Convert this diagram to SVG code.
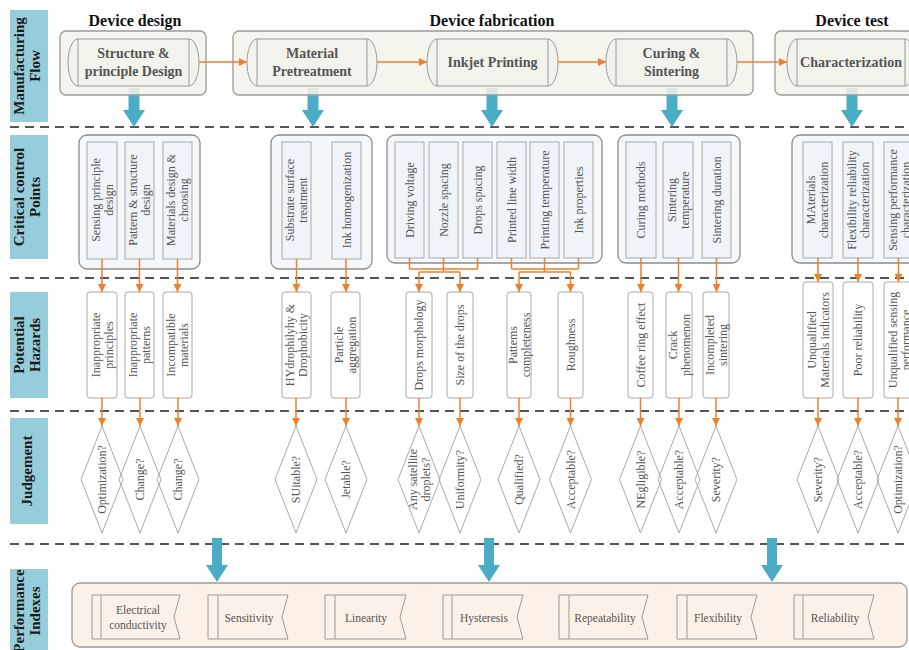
<svg xmlns="http://www.w3.org/2000/svg" width="909" height="650" viewBox="0 0 909 650">
  <defs>
    <style>
      .band { fill: #95CDDB; }
      .bandtxt { font-family: "Liberation Serif", "Times New Roman", serif; font-weight: bold; font-size: 15px; fill: #1a1a1a; text-anchor: middle; }
      .title { font-family: "Liberation Serif", "Times New Roman", serif; font-weight: bold; font-size: 16px; fill: #111; text-anchor: middle; }
      .ptxt { font-family: "Liberation Serif", "Times New Roman", serif; font-weight: bold; font-size: 14px; fill: #555; text-anchor: middle; }
      .t { font-family: "Liberation Serif", "Times New Roman", serif; font-size: 12px; fill: #555; text-anchor: middle; }
      .ts { font-family: "Liberation Serif", "Times New Roman", serif; font-size: 11.5px; fill: #555; text-anchor: middle; }
      .dash { stroke: #555; stroke-width: 2; stroke-dasharray: 9 6; fill: none; }
      .grp { fill: #F2F4EB; stroke: #9a9a9a; stroke-width: 1.3; }
      .pill { fill: #F2F4EB; stroke: #9a9a9a; stroke-width: 1; }
      .cg { fill: #F5F7F9; stroke: #8c8c8c; stroke-width: 1.3; }
      .ci { fill: #EEF4F9; stroke: #aaa; stroke-width: 1; }
      .hz { fill: #fff; stroke: #aaa; stroke-width: 1; }
      .dm { fill: none; stroke: #aaa; stroke-width: 1; }
      .pf { fill: #FCF1E8; stroke: #9a9a9a; stroke-width: 1.3; }
      .pi { fill: #FCF1E8; stroke: #9a9a9a; stroke-width: 1; }
      .ln { stroke: #9a9a9a; stroke-width: 1; fill: none; }
      .con { stroke: #EE7F2D; stroke-width: 1.5; fill: none; }
      .arr { stroke: #EE7F2D; stroke-width: 1.5; fill: none; marker-end: url(#ah); }
      .blue { fill: #4BACC6; }
    </style>
    <marker id="ah" viewBox="0 0 10 10" refX="10" refY="5" markerWidth="8" markerHeight="8" markerUnits="userSpaceOnUse" orient="auto">
      <path d="M0,0 L10,5 L0,10 z" fill="#EE7F2D"/>
    </marker>
  </defs>

  <rect width="909" height="650" fill="#fff"/>

  <!-- row separators -->
  <g id="separators">
    <line class="dash" x1="10" y1="127" x2="909" y2="127"/>
    <line class="dash" x1="10" y1="278" x2="909" y2="278"/>
    <line class="dash" x1="10" y1="411" x2="909" y2="411"/>
    <line class="dash" x1="10" y1="544" x2="909" y2="544"/>
  </g>

  <!-- row headers -->
  <g id="row-flow">
    <rect class="band" x="10" y="10" width="38" height="112"/>
    <text class="bandtxt" transform="translate(27,66) rotate(-90)"><tspan x="0" y="-3">Manufacturing</tspan><tspan x="0" y="13">Flow</tspan></text>
  </g>
  <g id="row-ccp">
    <rect class="band" x="10" y="135" width="38" height="124"/>
    <text class="bandtxt" transform="translate(27,197) rotate(-90)"><tspan x="0" y="-3">Critical control</tspan><tspan x="0" y="13">Points</tspan></text>
  </g>
  <g id="row-hazards">
    <rect class="band" x="10" y="292" width="38" height="106"/>
    <text class="bandtxt" transform="translate(27,345) rotate(-90)"><tspan x="0" y="-3">Potential</tspan><tspan x="0" y="13">Hazards</tspan></text>
  </g>
  <g id="row-judgement">
    <rect class="band" x="10" y="418" width="38" height="106"/>
    <text class="bandtxt" transform="translate(27,471) rotate(-90)"><tspan x="0" y="5">Judgement</tspan></text>
  </g>
  <g id="row-performance">
    <rect class="band" x="10" y="569" width="38" height="95"/>
    <text class="bandtxt" transform="translate(27,611) rotate(-90)"><tspan x="0" y="-3">Performance</tspan><tspan x="0" y="13">Indexes</tspan></text>
  </g>

  <!-- stage titles -->
  <text class="title" x="135" y="26">Device design</text>
  <text class="title" x="492" y="26">Device fabrication</text>
  <text class="title" x="852" y="26">Device test</text>

  <!-- blue transfer arrows (drawn under the stage boxes) -->
  <g id="transfer-arrows">
    <polygon class="blue" points="128.5,88 139.5,88 139.5,110 145,110 134,127 123,110 128.5,110"/>
    <polygon class="blue" points="307.5,88 318.5,88 318.5,110 324,110 313,127 302,110 307.5,110"/>
    <polygon class="blue" points="486.5,88 497.5,88 497.5,110 503,110 492,127 481,110 486.5,110"/>
    <polygon class="blue" points="666.5,88 677.5,88 677.5,110 683,110 672,127 661,110 666.5,110"/>
    <polygon class="blue" points="846.5,88 857.5,88 857.5,110 863,110 852,127 841,110 846.5,110"/>
    <polygon class="blue" points="212,538 222,538 222,565 228,565 217,582 206,565 212,565"/>
    <polygon class="blue" points="484,538 494,538 494,565 500,565 489,582 478,565 484,565"/>
    <polygon class="blue" points="767,538 777,538 777,565 783,565 772,582 761,565 767,565"/>
  </g>

  <!-- manufacturing flow -->
  <g id="stage-design">
    <rect class="grp" x="60" y="31" width="146" height="64" rx="6" fill-opacity="0.85"/>
  </g>
  <g id="stage-fabrication">
    <rect class="grp" x="233" y="31" width="520" height="64" rx="6" fill-opacity="0.85"/>
  </g>
  <g id="stage-test">
    <rect class="grp" x="775" y="31" width="150" height="64" rx="6" fill-opacity="0.85"/>
  </g>

  <g id="structure-design">
    <path class="pill" d="M78,39 H189 A10,23.5 0 0 1 189,86 H78 A10,23.5 0 0 1 78,39 Z"/>
    <path class="ln" d="M78,39 V86 M189,39 V86"/>
    <text class="ptxt" x="133.5" y="58">Structure &amp;</text>
    <text class="ptxt" x="133.5" y="76">principle Design</text>
  </g>
  <g id="material-pretreatment">
    <path class="pill" d="M257,39 H367 A10,23.5 0 0 1 367,86 H257 A10,23.5 0 0 1 257,39 Z"/>
    <path class="ln" d="M257,39 V86 M367,39 V86"/>
    <text class="ptxt" x="312" y="58">Material</text>
    <text class="ptxt" x="312" y="76">Pretreatment</text>
  </g>
  <g id="inkjet-printing">
    <path class="pill" d="M437,39 H548 A10,23.5 0 0 1 548,86 H437 A10,23.5 0 0 1 437,39 Z"/>
    <path class="ln" d="M437,39 V86 M548,39 V86"/>
    <text class="ptxt" x="492.5" y="67">Inkjet Printing</text>
  </g>
  <g id="curing-sintering">
    <path class="pill" d="M616,39 H727 A10,23.5 0 0 1 727,86 H616 A10,23.5 0 0 1 616,39 Z"/>
    <path class="ln" d="M616,39 V86 M727,39 V86"/>
    <text class="ptxt" x="671.5" y="58">Curing &amp;</text>
    <text class="ptxt" x="671.5" y="76">Sintering</text>
  </g>
  <g id="characterization">
    <path class="pill" d="M797,39 H905 A10,23.5 0 0 1 905,86 H797 A10,23.5 0 0 1 797,39 Z"/>
    <path class="ln" d="M797,39 V86 M905,39 V86"/>
    <text class="ptxt" x="851" y="67">Characterization</text>
  </g>

  <!-- critical control points -->
  <g id="ccp-design">
    <rect class="cg" x="79" y="135" width="121" height="134" rx="8"/>
    <rect class="ci" x="87" y="142" width="30" height="117"/>
    <rect class="ci" x="125" y="142" width="29" height="117"/>
    <rect class="ci" x="163" y="142" width="29" height="117"/>
    <text class="t" transform="translate(102,200) rotate(-90)"><tspan x="0" y="-2.5">Sensing principle</tspan><tspan x="0" y="10.5">design</tspan></text>
    <text class="t" transform="translate(139.5,200) rotate(-90)"><tspan x="0" y="-2.5">Pattern &amp; structure</tspan><tspan x="0" y="10.5">design</tspan></text>
    <text class="t" transform="translate(177.5,200) rotate(-90)"><tspan x="0" y="-2.5">Materials design &amp;</tspan><tspan x="0" y="10.5">choosing</tspan></text>
  </g>
  <g id="ccp-pretreatment">
    <rect class="cg" x="271" y="135" width="101" height="134" rx="8"/>
    <rect class="ci" x="282" y="142" width="29" height="117"/>
    <rect class="ci" x="332" y="142" width="29" height="117"/>
    <text class="t" transform="translate(296.5,200) rotate(-90)"><tspan x="0" y="-2.5">Substrate surface</tspan><tspan x="0" y="10.5">treatment</tspan></text>
    <text class="t" transform="translate(346.5,200) rotate(-90)"><tspan x="0" y="4">Ink homogenization</tspan></text>
  </g>
  <g id="ccp-printing">
    <rect class="cg" x="387" y="135" width="215" height="128" rx="8"/>
    <rect class="ci" x="395" y="142" width="29" height="116"/>
    <rect class="ci" x="429" y="142" width="29" height="116"/>
    <rect class="ci" x="463" y="142" width="29" height="116"/>
    <rect class="ci" x="497" y="142" width="29" height="116"/>
    <rect class="ci" x="530" y="142" width="29" height="116"/>
    <rect class="ci" x="564" y="142" width="29" height="116"/>
    <text class="t" transform="translate(409.5,200) rotate(-90)"><tspan x="0" y="4">Driving voltage</tspan></text>
    <text class="t" transform="translate(443.5,200) rotate(-90)"><tspan x="0" y="4">Nozzle spacing</tspan></text>
    <text class="t" transform="translate(477.5,200) rotate(-90)"><tspan x="0" y="4">Drops spacing</tspan></text>
    <text class="t" transform="translate(511.5,200) rotate(-90)"><tspan x="0" y="4">Printed line width</tspan></text>
    <text class="t" transform="translate(544.5,200) rotate(-90)"><tspan x="0" y="4">Printing temperature</tspan></text>
    <text class="t" transform="translate(578.5,200) rotate(-90)"><tspan x="0" y="4">Ink properties</tspan></text>
  </g>
  <g id="ccp-curing">
    <rect class="cg" x="618" y="135" width="122" height="128" rx="8"/>
    <rect class="ci" x="626" y="142" width="30" height="116"/>
    <rect class="ci" x="663" y="142" width="30" height="116"/>
    <rect class="ci" x="702" y="142" width="29" height="116"/>
    <text class="t" transform="translate(641,200) rotate(-90)"><tspan x="0" y="4">Curing methods</tspan></text>
    <text class="t" transform="translate(678,200) rotate(-90)"><tspan x="0" y="-2.5">Sintering</tspan><tspan x="0" y="10.5">temperature</tspan></text>
    <text class="t" transform="translate(716.5,200) rotate(-90)"><tspan x="0" y="4">Sintering duration</tspan></text>
  </g>
  <g id="ccp-test">
    <rect class="cg" x="792" y="135" width="135" height="128" rx="8"/>
    <rect class="ci" x="803" y="142" width="29" height="116"/>
    <rect class="ci" x="843" y="142" width="30" height="116"/>
    <rect class="ci" x="884" y="142" width="30" height="116"/>
    <text class="t" transform="translate(817.5,200) rotate(-90)"><tspan x="0" y="-2.5">MAterials</tspan><tspan x="0" y="10.5">characterization</tspan></text>
    <text class="t" transform="translate(858,200) rotate(-90)"><tspan x="0" y="-2.5">Flexibility reliability</tspan><tspan x="0" y="10.5">characterization</tspan></text>
    <text class="t" transform="translate(899,200) rotate(-90)"><tspan x="0" y="-2.5">Sensing performance</tspan><tspan x="0" y="10.5">characterization</tspan></text>
  </g>

  <!-- potential hazards -->
  <g id="hz-principles"><rect class="hz" x="87" y="292" width="30" height="106" rx="3"/>
    <text class="t" transform="translate(102,345) rotate(-90)"><tspan x="0" y="-2.5">Inappropriate</tspan><tspan x="0" y="10.5">principles</tspan></text></g>
  <g id="hz-patterns"><rect class="hz" x="125" y="292" width="29" height="106" rx="3"/>
    <text class="t" transform="translate(139.5,345) rotate(-90)"><tspan x="0" y="-2.5">Inappropriate</tspan><tspan x="0" y="10.5">patterns</tspan></text></g>
  <g id="hz-materials"><rect class="hz" x="163" y="292" width="29" height="106" rx="3"/>
    <text class="t" transform="translate(177.5,345) rotate(-90)"><tspan x="0" y="-2.5">Incompatible</tspan><tspan x="0" y="10.5">materials</tspan></text></g>
  <g id="hz-wetting"><rect class="hz" x="282" y="292" width="29" height="106" rx="3"/>
    <text class="t" transform="translate(296.5,345) rotate(-90)"><tspan x="0" y="-2.5">HYdrophilyhy &amp;</tspan><tspan x="0" y="10.5">Drophobicity</tspan></text></g>
  <g id="hz-aggregation"><rect class="hz" x="331" y="292" width="29" height="106" rx="3"/>
    <text class="t" transform="translate(345.5,345) rotate(-90)"><tspan x="0" y="-2.5">Particle</tspan><tspan x="0" y="10.5">aggregation</tspan></text></g>
  <g id="hz-morphology"><rect class="hz" x="406" y="292" width="26" height="106" rx="3"/>
    <text class="t" transform="translate(419,345) rotate(-90)"><tspan x="0" y="4">Drops morphology</tspan></text></g>
  <g id="hz-size"><rect class="hz" x="447" y="292" width="26" height="106" rx="3"/>
    <text class="t" transform="translate(460,345) rotate(-90)"><tspan x="0" y="4">Size of the drops</tspan></text></g>
  <g id="hz-completeness"><rect class="hz" x="507" y="292" width="24" height="106" rx="3"/>
    <text class="t" transform="translate(519,345) rotate(-90)"><tspan x="0" y="-2.5">Pattems</tspan><tspan x="0" y="10.5">completeness</tspan></text></g>
  <g id="hz-roughness"><rect class="hz" x="558" y="292" width="25" height="106" rx="3"/>
    <text class="t" transform="translate(570.5,345) rotate(-90)"><tspan x="0" y="4">Roughness</tspan></text></g>
  <g id="hz-coffee"><rect class="hz" x="628" y="292" width="25" height="106" rx="3"/>
    <text class="t" transform="translate(640.5,345) rotate(-90)"><tspan x="0" y="4">Coffee ring effect</tspan></text></g>
  <g id="hz-crack"><rect class="hz" x="666" y="292" width="26" height="106" rx="3"/>
    <text class="t" transform="translate(679,345) rotate(-90)"><tspan x="0" y="-2.5">Crack</tspan><tspan x="0" y="10.5">phenomenon</tspan></text></g>
  <g id="hz-sintering"><rect class="hz" x="703" y="292" width="26" height="106" rx="3"/>
    <text class="t" transform="translate(716,345) rotate(-90)"><tspan x="0" y="-2.5">Incompleted</tspan><tspan x="0" y="10.5">sintering</tspan></text></g>
  <g id="hz-indicators"><rect class="hz" x="803" y="282" width="30" height="116" rx="3"/>
    <text class="t" transform="translate(818,340) rotate(-90)"><tspan x="0" y="-2.5">Unqualified</tspan><tspan x="0" y="10.5">Materials indicators</tspan></text></g>
  <g id="hz-reliability"><rect class="hz" x="843" y="282" width="30" height="116" rx="3"/>
    <text class="t" transform="translate(858,340) rotate(-90)"><tspan x="0" y="4">Poor reliability</tspan></text></g>
  <g id="hz-sensing"><rect class="hz" x="884" y="282" width="30" height="116" rx="3"/>
    <text class="t" transform="translate(899,340) rotate(-90)"><tspan x="0" y="-2.5">Unqualified sensing</tspan><tspan x="0" y="10.5">performance</tspan></text></g>

  <!-- judgement diamonds -->
  <g id="j-optimization-1"><path class="dm" d="M102,426 L123,479.5 L102,533 L81,479.5 Z"/>
    <text class="t" transform="translate(102,479.5) rotate(-90)"><tspan x="0" y="4">Optimization?</tspan></text></g>
  <g id="j-change-1"><path class="dm" d="M140,426 L161,479.5 L140,533 L119,479.5 Z"/>
    <text class="t" transform="translate(140,479.5) rotate(-90)"><tspan x="0" y="4">Change?</tspan></text></g>
  <g id="j-change-2"><path class="dm" d="M178,426 L199,479.5 L178,533 L157,479.5 Z"/>
    <text class="t" transform="translate(178,479.5) rotate(-90)"><tspan x="0" y="4">Change?</tspan></text></g>
  <g id="j-suitable"><path class="dm" d="M296,426 L317,479.5 L296,533 L275,479.5 Z"/>
    <text class="t" transform="translate(296,479.5) rotate(-90)"><tspan x="0" y="4">SUitable?</tspan></text></g>
  <g id="j-jetable"><path class="dm" d="M346,426 L367,479.5 L346,533 L325,479.5 Z"/>
    <text class="t" transform="translate(346,479.5) rotate(-90)"><tspan x="0" y="4">Jetable?</tspan></text></g>
  <g id="j-satellite"><path class="dm" d="M419,426 L440,479.5 L419,533 L398,479.5 Z"/>
    <text class="t" transform="translate(419,479.5) rotate(-90)"><tspan x="0" y="-2.5">Any satellite</tspan><tspan x="0" y="10.5">droplets?</tspan></text></g>
  <g id="j-uniformity"><path class="dm" d="M460,426 L481,479.5 L460,533 L439,479.5 Z"/>
    <text class="t" transform="translate(460,479.5) rotate(-90)"><tspan x="0" y="4">Uniformity?</tspan></text></g>
  <g id="j-qualified"><path class="dm" d="M519,426 L540,479.5 L519,533 L498,479.5 Z"/>
    <text class="t" transform="translate(519,479.5) rotate(-90)"><tspan x="0" y="4">Qualified?</tspan></text></g>
  <g id="j-acceptable-1"><path class="dm" d="M570.5,426 L591.5,479.5 L570.5,533 L549.5,479.5 Z"/>
    <text class="t" transform="translate(570.5,479.5) rotate(-90)"><tspan x="0" y="4">Acceptable?</tspan></text></g>
  <g id="j-negligible"><path class="dm" d="M640.5,426 L661.5,479.5 L640.5,533 L619.5,479.5 Z"/>
    <text class="t" transform="translate(640.5,479.5) rotate(-90)"><tspan x="0" y="4">NEgligible?</tspan></text></g>
  <g id="j-acceptable-2"><path class="dm" d="M679,426 L700,479.5 L679,533 L658,479.5 Z"/>
    <text class="t" transform="translate(679,479.5) rotate(-90)"><tspan x="0" y="4">Acceptable?</tspan></text></g>
  <g id="j-severity-1"><path class="dm" d="M716,426 L737,479.5 L716,533 L695,479.5 Z"/>
    <text class="t" transform="translate(716,479.5) rotate(-90)"><tspan x="0" y="4">Severity?</tspan></text></g>
  <g id="j-severity-2"><path class="dm" d="M818,426 L839,479.5 L818,533 L797,479.5 Z"/>
    <text class="t" transform="translate(818,479.5) rotate(-90)"><tspan x="0" y="4">Severity?</tspan></text></g>
  <g id="j-acceptable-3"><path class="dm" d="M858,426 L879,479.5 L858,533 L837,479.5 Z"/>
    <text class="t" transform="translate(858,479.5) rotate(-90)"><tspan x="0" y="4">Acceptable?</tspan></text></g>
  <g id="j-optimization-2"><path class="dm" d="M898,426 L919,479.5 L898,533 L877,479.5 Z"/>
    <text class="t" transform="translate(898,479.5) rotate(-90)"><tspan x="0" y="4">Optimization?</tspan></text></g>

  <!-- performance indexes -->
  <g id="performance">
    <rect class="pf" x="72" y="583" width="835" height="64" rx="8"/>
  </g>
  <g id="pi-conductivity">
    <path class="pi" d="M92,595 H180 L174,617 L180,639 H92 Z"/><path class="ln" d="M101,595 V639"/>
    <text class="ts" x="138" y="614">Electrical</text><text class="ts" x="138" y="629">conductivity</text>
  </g>
  <g id="pi-sensitivity">
    <path class="pi" d="M208,595 H288 L282,617 L288,639 H208 Z"/><path class="ln" d="M218,595 V639"/>
    <text class="ts" x="249" y="622">Sensitivity</text>
  </g>
  <g id="pi-linearity">
    <path class="pi" d="M325,595 H406 L400,617 L406,639 H325 Z"/><path class="ln" d="M335,595 V639"/>
    <text class="ts" x="366" y="622">Linearity</text>
  </g>
  <g id="pi-hysteresis">
    <path class="pi" d="M443,595 H523 L517,617 L523,639 H443 Z"/><path class="ln" d="M452,595 V639"/>
    <text class="ts" x="484" y="622">Hysteresis</text>
  </g>
  <g id="pi-repeatability">
    <path class="pi" d="M559,595 H648 L642,617 L648,639 H559 Z"/><path class="ln" d="M569,595 V639"/>
    <text class="ts" x="605" y="622">Repeatability</text>
  </g>
  <g id="pi-flexibility">
    <path class="pi" d="M677,595 H757 L751,617 L757,639 H677 Z"/><path class="ln" d="M687,595 V639"/>
    <text class="ts" x="718" y="622">Flexibility</text>
  </g>
  <g id="pi-reliability">
    <path class="pi" d="M794,595 H874 L868,617 L874,639 H794 Z"/><path class="ln" d="M803,595 V639"/>
    <text class="ts" x="835" y="622">Reliability</text>
  </g>

  <!-- connectors -->
  <g id="connectors">
    <!-- process flow -->
    <line class="arr" x1="199" y1="62" x2="247" y2="62"/>
    <line class="arr" x1="377" y1="62" x2="427" y2="62"/>
    <line class="arr" x1="558" y1="62" x2="606" y2="62"/>
    <line class="arr" x1="737" y1="62" x2="787" y2="62"/>

    <!-- control points to hazards -->
    <line class="arr" x1="102" y1="259" x2="102" y2="292"/>
    <line class="arr" x1="139.5" y1="259" x2="139.5" y2="292"/>
    <line class="arr" x1="177.5" y1="259" x2="177.5" y2="292"/>
    <line class="arr" x1="296.5" y1="259" x2="296.5" y2="292"/>
    <line class="arr" x1="346" y1="259" x2="346" y2="292"/>

    <path class="con" d="M409.5,258 V269 M443.5,258 V272 M477.5,258 V269 M409.5,269 H477.5 M419,272 H460"/>
    <line class="arr" x1="419" y1="272" x2="419" y2="292"/>
    <line class="arr" x1="460" y1="272" x2="460" y2="292"/>
    <path class="con" d="M511.5,258 V269 M544.5,258 V272 M578.5,258 V269 M511.5,269 H578.5 M519,272 H570.5"/>
    <line class="arr" x1="519" y1="272" x2="519" y2="292"/>
    <line class="arr" x1="570.5" y1="272" x2="570.5" y2="292"/>

    <line class="arr" x1="641" y1="258" x2="641" y2="292"/>
    <line class="arr" x1="678.5" y1="258" x2="678.5" y2="292"/>
    <line class="arr" x1="716.5" y1="258" x2="716.5" y2="292"/>
    <line class="arr" x1="818" y1="258" x2="818" y2="282"/>
    <line class="arr" x1="858" y1="258" x2="858" y2="282"/>
    <line class="arr" x1="898.5" y1="258" x2="898.5" y2="282"/>

    <!-- hazards to judgements -->
    <line class="arr" x1="102" y1="398" x2="102" y2="426"/>
    <line class="arr" x1="140" y1="398" x2="140" y2="426"/>
    <line class="arr" x1="178" y1="398" x2="178" y2="426"/>
    <line class="arr" x1="296" y1="398" x2="296" y2="426"/>
    <line class="arr" x1="346" y1="398" x2="346" y2="426"/>
    <line class="arr" x1="419" y1="398" x2="419" y2="426"/>
    <line class="arr" x1="460" y1="398" x2="460" y2="426"/>
    <line class="arr" x1="519" y1="398" x2="519" y2="426"/>
    <line class="arr" x1="570.5" y1="398" x2="570.5" y2="426"/>
    <line class="arr" x1="640.5" y1="398" x2="640.5" y2="426"/>
    <line class="arr" x1="679" y1="398" x2="679" y2="426"/>
    <line class="arr" x1="716" y1="398" x2="716" y2="426"/>
    <line class="arr" x1="818" y1="398" x2="818" y2="426"/>
    <line class="arr" x1="858" y1="398" x2="858" y2="426"/>
    <line class="arr" x1="898" y1="398" x2="898" y2="426"/>
  </g>
</svg>
